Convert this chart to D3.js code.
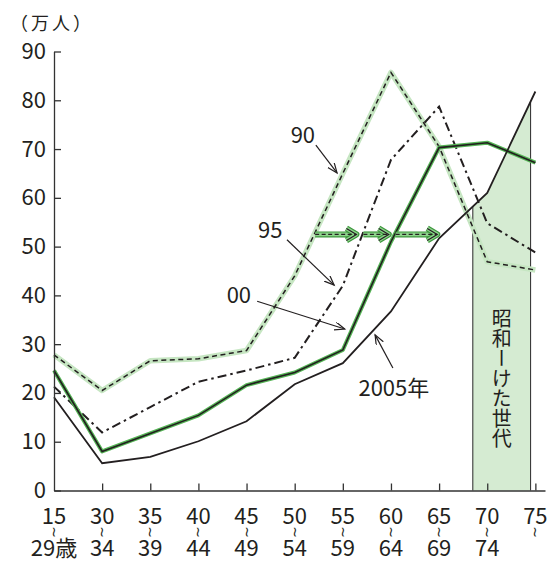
<!DOCTYPE html>
<html><head><meta charset="utf-8">
<script src="https://cdn.jsdelivr.net/npm/d3@7"></script>
<style>
body{margin:0;background:#fff}
text{font-family:"Noto Sans CJK JP","Noto Sans",sans-serif;fill:#231f20}
</style>
</head><body>
<svg id="chart" width="549" height="561"></svg>
<script>
// Age groups (upper / lower line of each x label)
const ageTop = ["15","30","35","40","45","50","55","60","65","70","75"];
const ageBottom = ["29歳","34","39","44","49","54","59","64","69","74",""];
const yTicks = [0,10,20,30,40,50,60,70,80,90];

// Population by age group, 万人
const pop1990 = [27.8, 20.5, 26.6, 27.0, 28.7, 44.0, 65.0, 85.7, 70.5, 46.9, 45.2];
const pop1995 = [21.3, 11.9, 17.1, 22.3, 24.6, 27.2, 42.0, 67.8, 78.7, 54.8, 48.8];
const pop2000 = [24.6, 8.0, 11.7, 15.4, 21.6, 24.2, 28.8, 51.0, 70.3, 71.3, 67.2];
const pop2005 = [19.1, 5.6, 6.9, 10.1, 14.2, 21.8, 26.1, 36.7, 51.7, 61.0, 81.8];

// Cohort shift arrows (level in 万人) and the 昭和一けた世代 span (age-group index)
const shiftLevel = 52.5;
const cohortSpan = [8.7, 9.9];

const svg = d3.select("#chart");
const x = d3.scaleLinear().domain([0, 10.2]).range([54, 545]);
const y = d3.scaleLinear().domain([0, 90]).range([490.5, 51.5]);
const ink = "#231f20";

// value of a series at a fractional index
function valueAt(s, t) {
  const i = Math.min(Math.floor(t), s.length - 2);
  return s[i] + (s[i + 1] - s[i]) * (t - i);
}
// index where a series rises through a level (upper age groups)
function crossing(s, level) {
  for (let i = 4; i < s.length - 1; i++) {
    if (s[i] <= level && s[i + 1] > level) return i + (level - s[i]) / (s[i + 1] - s[i]);
  }
  return null;
}

// shaded cohort band under the 2005 curve
const bandPts = [cohortSpan[0], 9, cohortSpan[1]].map(t => [t, valueAt(pop2005, t)]);
svg.append("path")
  .attr("d", d3.area().x(d => x(d[0])).y0(y(0)).y1(d => y(d[1]))(bandPts))
  .attr("fill", "#d5ebd2");
[bandPts[0], bandPts[2]].forEach(p => {
  svg.append("line")
    .attr("x1", x(p[0])).attr("x2", x(p[0]))
    .attr("y1", y(0)).attr("y2", y(p[1]))
    .attr("stroke", "#3a3a3a").attr("stroke-width", 1.1);
});
svg.append("text")
  .attr("x", x((cohortSpan[0] + cohortSpan[1]) / 2))
  .attr("y", y(22.9))
  .attr("text-anchor", "middle")
  .style("writing-mode", "vertical-rl")
  .style("font-size", "20px")
  .text("昭和ーけた世代");

const line = d3.line().x((d, i) => x(i)).y(d => y(d));

// 1990: dashed with light green halo
svg.append("path").attr("d", line(pop1990)).attr("fill", "none")
  .attr("stroke", "#c6e6c2").attr("stroke-width", 5.5).attr("stroke-linejoin", "round");
svg.append("path").attr("d", line(pop1990)).attr("fill", "none")
  .attr("stroke", ink).attr("stroke-width", 1.5).attr("stroke-dasharray", "5,3.5");

// 1995: dash-dot
svg.append("path").attr("d", line(pop1995)).attr("fill", "none")
  .attr("stroke", ink).attr("stroke-width", 2).attr("stroke-dasharray", "9,4,2.5,4");

// 2000: green with black core
svg.append("path").attr("d", line(pop2000)).attr("fill", "none")
  .attr("stroke", "#55b455").attr("stroke-width", 4).attr("stroke-linejoin", "round");
svg.append("path").attr("d", line(pop2000)).attr("fill", "none")
  .attr("stroke", ink).attr("stroke-width", 1.6);

// 2005: solid black
svg.append("path").attr("d", line(pop2005)).attr("fill", "none")
  .attr("stroke", ink).attr("stroke-width", 1.8);

// cohort shift arrows between successive survey years
const series = [pop1990, pop1995, pop2000, pop2005];
const yl = y(shiftLevel);
for (let k = 0; k < 3; k++) {
  const x1 = x(crossing(series[k], shiftLevel)) + 1;
  const x2 = x(crossing(series[k + 1], shiftLevel)) - 6;
  const shaft = `M${x1},${yl}H${x2}`;
  const head = `M${x2 - 10},${yl - 6}L${x2},${yl}L${x2 - 10},${yl + 6}`;
  [shaft, head].forEach(d => {
    svg.append("path").attr("d", d).attr("fill", "none")
      .attr("stroke", "#3d963d").attr("stroke-width", 6).attr("stroke-linejoin", "round");
    svg.append("path").attr("d", d).attr("fill", "none")
      .attr("stroke", "#8ed38c").attr("stroke-width", 3.6).attr("stroke-linejoin", "round");
  });
  svg.append("path").attr("d", shaft).attr("stroke", ink).attr("stroke-width", 1.2)
    .attr("stroke-dasharray", "4,2.5");
  svg.append("path").attr("d", head).attr("fill", "none").attr("stroke", ink).attr("stroke-width", 1.2);
}

// series labels with leader arrows (data coordinates)
svg.append("defs").append("marker")
  .attr("id", "tip").attr("markerUnits", "userSpaceOnUse")
  .attr("markerWidth", 12).attr("markerHeight", 10)
  .attr("refX", 10).attr("refY", 4).attr("orient", "auto")
  .append("path").attr("d", "M0,0L10,4L0,8").attr("fill", "none")
  .attr("stroke", ink).attr("stroke-width", 1.2);

const labels = [
  {text: "90", at: [5.17, 73.3], from: [5.44, 70.8], to: [5.88, 65.1]},
  {text: "95", at: [4.49, 53.8], from: [4.84, 51.4], to: [5.82, 42.1]},
  {text: "00", at: [3.84, 40.5], from: [4.22, 38.8], to: [6.04, 33.1]},
  {text: "2005年", at: [7.06, 21.4], from: [7.04, 25.1], to: [6.67, 31.9]}
];
labels.forEach(l => {
  svg.append("text").attr("x", x(l.at[0])).attr("y", y(l.at[1]))
    .attr("text-anchor", "middle").attr("dominant-baseline", "central")
    .style("font-size", "22px").text(l.text);
  svg.append("line")
    .attr("x1", x(l.from[0])).attr("y1", y(l.from[1]))
    .attr("x2", x(l.to[0])).attr("y2", y(l.to[1]))
    .attr("stroke", ink).attr("stroke-width", 1.2).attr("marker-end", "url(#tip)");
});

// axes
const yAxis = d3.axisLeft(y).tickValues(yTicks).tickSizeInner(-7).tickSizeOuter(0).tickPadding(8);
const gy = svg.append("g").attr("transform", `translate(${x(0)},0)`).call(yAxis);
gy.selectAll("text").style("font-size", "22px").attr("fill", ink);

const xAxis = d3.axisBottom(x).tickValues(d3.range(1, 11)).tickSizeInner(-7).tickSizeOuter(0).tickFormat("");
const gx = svg.append("g").attr("transform", `translate(0,${y(0)})`).call(xAxis);

[gy, gx].forEach(g => {
  g.select(".domain").attr("stroke", "#333").attr("stroke-width", 1.3);
  g.selectAll(".tick line").attr("stroke", "#333").attr("stroke-width", 1.3);
});

// two-line age labels joined by a vertical wave
ageTop.forEach((t, i) => {
  svg.append("text").attr("x", x(i)).attr("y", 524).attr("text-anchor", "middle")
    .style("font-size", "22px").text(t);
  svg.append("text").attr("transform", `translate(${x(i)},532) rotate(90)`)
    .attr("text-anchor", "middle").attr("dominant-baseline", "central")
    .style("font-family", "'DejaVu Sans'").style("font-size", "14px").text("~");
  if (ageBottom[i]) {
    svg.append("text").attr("x", x(i)).attr("y", 556).attr("text-anchor", "middle")
      .style("font-size", "22px").text(ageBottom[i]);
  }
});

// unit label
svg.append("text").attr("x", 10).attr("y", 30).style("font-size", "18px")
  .style("letter-spacing", "3px").text("（万人）");
</script>
</body></html>
